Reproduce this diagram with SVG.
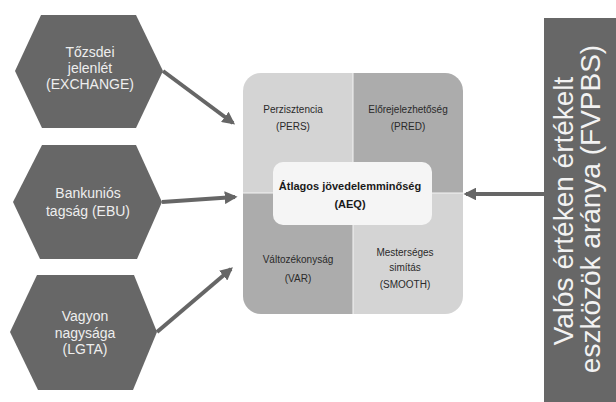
<svg xmlns="http://www.w3.org/2000/svg" width="616" height="402" viewBox="0 0 616 402">
  <style>
    .hex { fill: #676767; }
    .hext { font-family: "Liberation Sans", Arial, sans-serif; font-size: 14px; fill: #eeeeee; text-anchor: middle; }
    .qt { font-family: "Liberation Sans", Arial, sans-serif; font-size: 10px; fill: #2a2a2a; text-anchor: middle; }
    .ct { font-family: "Liberation Sans", Arial, sans-serif; font-size: 11px; font-weight: bold; fill: #1a1a1a; text-anchor: middle; }
    .bart { font-family: "Liberation Sans", Arial, sans-serif; font-size: 28px; fill: #f2f2f2; text-anchor: middle; }
    .conn { stroke: #666666; stroke-width: 4; fill: none; marker-end: url(#ah); }
  </style>
  <defs>
    <marker id="ah" viewBox="0 0 10 10" refX="8" refY="5" markerWidth="3.2" markerHeight="3.2" orient="auto" markerUnits="strokeWidth">
      <path d="M0,0 L10,5 L0,10 Z" fill="#666666"/>
    </marker>
    <clipPath id="boxclip">
      <rect x="243" y="73" width="220" height="241" rx="18" ry="18"/>
    </clipPath>
  </defs>
  <rect width="616" height="402" fill="#ffffff"/>

  <g id="exchange">
    <polygon class="hex" points="41,15 136,15 163,71 136,128 42,128 15,71"/>
    <text class="hext" x="90" y="57">Tőzsdei</text>
    <text class="hext" x="90" y="73">jelenlét</text>
    <text class="hext" x="90" y="89">(EXCHANGE)</text>
  </g>

  <g id="ebu">
    <polygon class="hex" points="42,145 136,145 162,202 137,259 40,259 13,202"/>
    <text class="hext" x="88" y="198">Bankuniós</text>
    <text class="hext" x="88" y="216">tagság (EBU)</text>
  </g>

  <g id="lgta">
    <polygon class="hex" points="37,275 134,275 157,332 133,390 38,390 10,332"/>
    <text class="hext" x="85" y="321">Vagyon</text>
    <text class="hext" x="85" y="337.5">nagysága</text>
    <text class="hext" x="85" y="354">(LGTA)</text>
  </g>

  <g id="aeq-box">
    <g clip-path="url(#boxclip)">
      <rect x="243" y="73" width="110" height="120" fill="#d4d4d4"/>
      <rect x="353" y="73" width="110" height="120" fill="#acacac"/>
      <rect x="243" y="193" width="110" height="121" fill="#acacac"/>
      <rect x="353" y="193" width="110" height="121" fill="#d4d4d4"/>
      <line x1="353" y1="73" x2="353" y2="314" stroke="#f4f4f4" stroke-width="1"/>
      <line x1="243" y1="193" x2="463" y2="193" stroke="#f4f4f4" stroke-width="1"/>
    </g>
  </g>

  <g id="pers">
    <text class="qt" x="293" y="113">Perzisztencia</text>
    <text class="qt" x="293" y="130">(PERS)</text>
  </g>
  <g id="pred">
    <text class="qt" x="408" y="113">Előrejelezhetőség</text>
    <text class="qt" x="408" y="130">(PRED)</text>
  </g>
  <g id="var">
    <text class="qt" x="298" y="263">Változékonyság</text>
    <text class="qt" x="298" y="282">(VAR)</text>
  </g>
  <g id="smooth">
    <text class="qt" x="405" y="256">Mesterséges</text>
    <text class="qt" x="405" y="271">simítás</text>
    <text class="qt" x="405" y="288">(SMOOTH)</text>
  </g>

  <g id="aeq">
    <rect x="273" y="162" width="159" height="63" rx="10" ry="10" fill="#f5f5f5"/>
    <text class="ct" x="350" y="190">Átlagos jövedelemminőség</text>
    <text class="ct" x="350" y="208">(AEQ)</text>
  </g>

  <g id="fvpbs">
    <rect x="544" y="18" width="72" height="384" fill="#676767"/>
    <text class="bart" transform="translate(573,211) rotate(-90)">Valós értéken értékelt</text>
    <text class="bart" transform="translate(600,209) rotate(-90)">eszközök aránya (FVPBS)</text>
  </g>

  <g id="connectors">
    <line class="conn" x1="163" y1="71" x2="233" y2="123"/>
    <line class="conn" x1="162" y1="202" x2="235" y2="197"/>
    <line class="conn" x1="157" y1="332" x2="231" y2="269"/>
    <line class="conn" x1="544" y1="194" x2="466" y2="194"/>
  </g>
</svg>
